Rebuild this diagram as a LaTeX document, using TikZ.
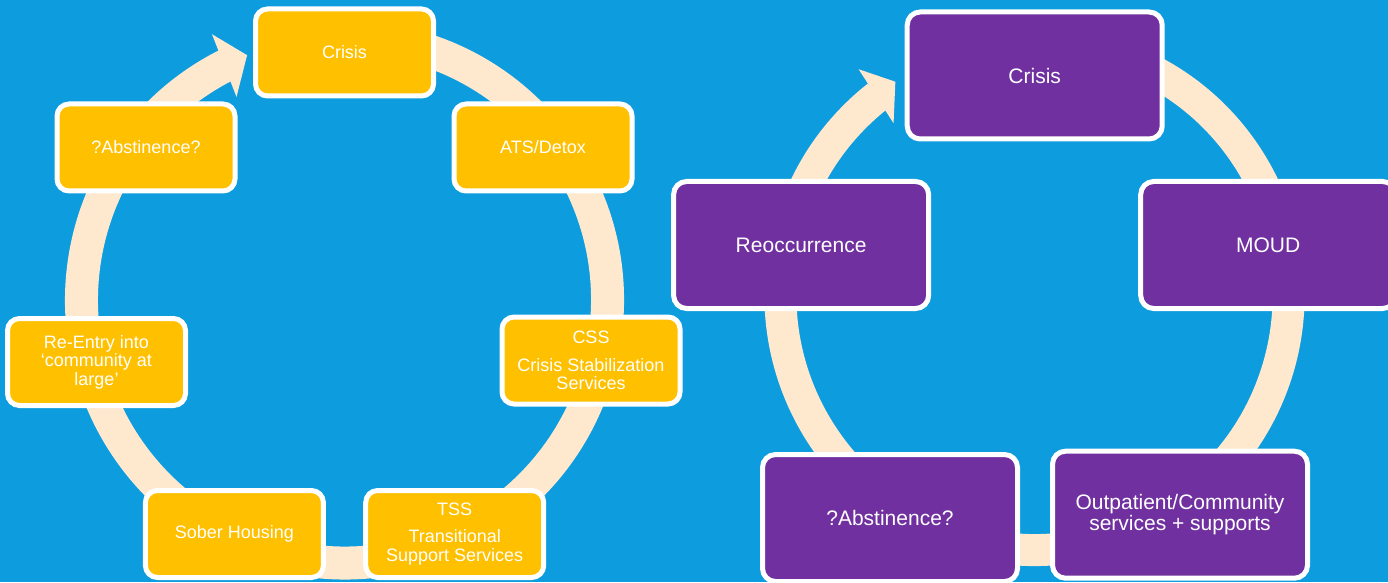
\documentclass[tikz,border=0pt]{standalone}
\usepackage{fontspec}
\setmainfont{Liberation Sans}
\usetikzlibrary{calc}
\definecolor{bgblue}{RGB}{13,156,222}
\definecolor{boxyellow}{RGB}{255,192,0}
\definecolor{boxpurple}{RGB}{112,48,160}
\definecolor{ringbeige}{RGB}{255,233,206}
\begin{document}
\begin{tikzpicture}[x=1pt,y=1pt,
  ybox/.style={draw=white, line width=5pt, fill=boxyellow, rounded corners=12pt,
    minimum width=178pt, minimum height=87pt, text=white, align=center,
    inner sep=2pt, font=\fontsize{18}{18.5}\selectfont},
  pbox/.style={draw=white, line width=5pt, fill=boxpurple, rounded corners=13pt,
    minimum width=255pt, minimum height=127pt, text=white, align=center,
    inner sep=2pt, font=\fontsize{21}{21.5}\selectfont},
  ringarc/.style={draw=ringbeige, line width=#1},
  ringhead/.style={fill=ringbeige}]
\fill[bgblue] (0,0) rectangle (1388,582);
\useasboundingbox (0,0) rectangle (1388,582);
% ring centres
\coordinate (lc) at (344.5,282);
\coordinate (rc) at (1034.5,286);
% left cycle ring with arrow head
\draw[ringarc=33pt] ($(lc)+(80:263)$) arc[start angle=80,end angle=-243.6,radius=263pt];
\fill[ringhead] ($(lc)+(116.5:297)$) -- ($(lc)+(111.7:263.5)$) -- ($(lc)+(118:230)$) -- cycle;
% right cycle ring with arrow head
\draw[ringarc=32pt] ($(rc)+(70:254)$) arc[start angle=70,end angle=-231.9,radius=254pt];
\fill[ringhead] ($(rc)+(127.8:287)$) -- ($(rc)+(123:255.5)$) -- ($(rc)+(129.2:223)$) -- cycle;
% left boxes
\node[ybox] (lcrisis) at (344.5,529.5) {Crisis};
\node[ybox] (lats) at (543,434.5) {ATS/Detox};
\node[ybox] (labst) at (146,434.5) {?Abstinence?};
\node[ybox] (lcss) at (591,221.5) {CSS\\[9pt]Crisis Stabilization\\Services};
\node[ybox] (lreentry) at (96.5,220) {Re-Entry into\\‘community at\\large’};
\node[ybox] (ltss) at (454.7,48) {TSS\\[9pt]Transitional\\Support Services};
\node[ybox] (lsober) at (234.4,48) {Sober Housing};
% right boxes
\node[pbox] (rcrisis) at (1034.7,506.5) {Crisis};
\node[pbox] (rmoud) at (1268.2,337) {MOUD};
\node[pbox] (rreocc) at (801.1,337) {Reoccurrence};
\node[pbox] (rabst) at (890,64) {?Abstinence?};
\node[pbox] (routp) at (1180,67.3) {Outpatient/Community\\services + supports};
\end{tikzpicture}
\end{document}
